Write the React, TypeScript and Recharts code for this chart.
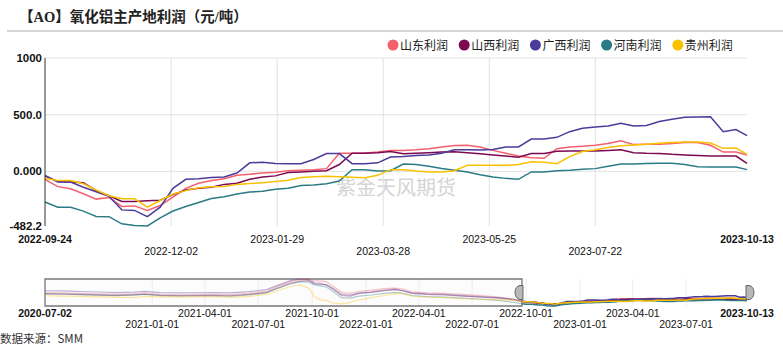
import React from 'react';
import { LineChart, Line, XAxis, YAxis, CartesianGrid, ReferenceArea, ReferenceDot } from 'recharts';

// ---------- data ----------
const seriesNames = ['山东利润', '山西利润', '广西利润', '河南利润', '贵州利润'];
const seriesKeys = ['sd', 'sx', 'gx', 'hn', 'gz'];
const seriesColors = ['#f4606c', '#7c0a52', '#4b3b9b', '#2a7b85', '#f9c100'];

const mainDates = [
  '2022-09-24', '2022-10-01', '2022-10-08', '2022-10-15', '2022-10-22', '2022-10-29',
  '2022-11-05', '2022-11-12', '2022-11-19', '2022-11-26', '2022-12-03', '2022-12-10',
  '2022-12-17', '2022-12-24', '2022-12-31', '2023-01-07', '2023-01-14', '2023-01-21',
  '2023-01-28', '2023-02-04', '2023-02-11', '2023-02-18', '2023-02-25', '2023-03-04',
  '2023-03-11', '2023-03-18', '2023-03-25', '2023-04-01', '2023-04-08', '2023-04-15',
  '2023-04-22', '2023-04-29', '2023-05-06', '2023-05-13', '2023-05-20', '2023-05-27',
  '2023-06-03', '2023-06-10', '2023-06-17', '2023-06-24', '2023-07-01', '2023-07-08',
  '2023-07-15', '2023-07-22', '2023-07-29', '2023-08-05', '2023-08-12', '2023-08-19',
  '2023-08-26', '2023-09-02', '2023-09-09', '2023-09-16', '2023-09-23', '2023-09-30',
  '2023-10-07', '2023-10-13',
];
const shandong = [
  -70, -135, -153, -198, -245, -230, -310, -305, -345, -301, -227, -150, -105, -80, -65, -35,
  -25, -15, -8, 5, 10, 15, 24, 160, 160, 162, 170, 185, 185, 190, 200, 215, 228, 230, 215, 185,
  160, 135, 120, 115, 200, 215, 222, 230, 245, 270, 236, 238, 240, 245, 255, 255, 230, 170, 170, 145,
];
const shanxi = [
  -40, -90, -95, -100, -170, -215, -265, -265, -260, -255, -205, -165, -150, -140, -115, -105,
  -70, -50, -40, -10, -5, 0, 5, 60, 160, 160, 165, 175, 155, 160, 165, 170, 172, 165, 155, 145,
  135, 125, 157, 157, 177, 180, 180, 180, 185, 190, 165, 160, 158, 150, 145, 140, 135, 135, 135, 70,
];
const guangxi = [
  -35, -95, -95, -140, -180, -220, -340, -345, -400, -316, -150, -70, -65, -55, -50, -15,
  75, 80, 70, 68, 68, 105, 157, 157, 68, 68, 75, 127, 130, 140, 145, 160, 190, 190, 188, 192,
  215, 215, 285, 285, 300, 350, 380, 392, 400, 425, 400, 405, 440, 460, 478, 480, 482, 350, 368, 315,
];
const henan = [
  -270, -316, -316, -351, -398, -400, -463, -478, -482.2, -410, -350, -310, -275, -240, -225, -200,
  -183, -175, -159, -150, -124, -120, -110, -86, 15, 15, 3, 5, 65, 60, 45, 25, 9, -5, -30, -50,
  -62, -70, -5, -5, 5, 10, 18, 24, 45, 65, 65, 70, 72, 72, 60, 40, 38, 38, 38, 15,
];
const guizhou = [
  -60, -80, -80, -110, -165, -215, -242, -242, -316, -257, -200, -170, -145, -137, -133, -115,
  -108, -100, -90, -78, -55, -48, -44, -48, -52, -56, -35, 15, 15, 3, -5, -6, 5, 53, 53, 53,
  53, 60, 85, 80, 68, 130, 175, 190, 210, 225, 232, 240, 248, 255, 258, 258, 250, 203, 206, 150,
];

const histDates = [
  '2020-07-02', '2020-08-01', '2020-09-01', '2020-10-01', '2020-11-01', '2020-12-01', '2020-12-20',
  '2021-01-15', '2021-02-15', '2021-03-15', '2021-04-15', '2021-05-15', '2021-06-15', '2021-07-15',
  '2021-08-05', '2021-08-25', '2021-09-10', '2021-09-25', '2021-10-05', '2021-10-15', '2021-10-25',
  '2021-11-05', '2021-11-20', '2021-12-05', '2021-12-20', '2022-01-10', '2022-02-01', '2022-02-20',
  '2022-03-05', '2022-03-20', '2022-04-15', '2022-05-15', '2022-06-15', '2022-07-15', '2022-08-15',
  '2022-09-10',
];
const histShandong = [760, 740, 700, 650, 600, 650, 720, 600, 560, 600, 620, 580, 700, 900, 1400, 1800, 2000, 2050, 1900, 1850, 1800, 1400, 800, 700, 900, 1000, 1150, 1200, 1100, 850, 750, 700, 600, 500, 350, 150];
const histShanxi = [650, 620, 580, 540, 500, 560, 620, 520, 480, 500, 520, 480, 600, 800, 1250, 1650, 1850, 1900, 1600, 1550, 1500, 1100, 500, 450, 700, 800, 950, 1050, 950, 700, 600, 550, 450, 350, 250, 100];
const histGuangxi = [950, 930, 880, 830, 780, 820, 880, 780, 740, 760, 780, 740, 860, 1050, 1500, 1900, 2050, 2000, 1700, 1650, 1500, 1200, 600, 550, 750, 850, 1000, 1100, 950, 750, 650, 600, 500, 400, 300, 150];
const histHenan = [680, 650, 600, 560, 520, 560, 600, 500, 460, 480, 480, 450, 560, 750, 1200, 1600, 1800, 1750, 1500, 1400, 1300, 900, 300, 250, 450, 550, 700, 800, 700, 500, 400, 350, 250, 150, 50, -150];
const histGuizhou = [480, 450, 420, 380, 330, 300, 420, 380, 350, 380, 360, 330, 420, 600, 1000, 1350, 1500, 1200, 400, 100, 50, -200, -290, -150, 100, 300, 500, 700, 650, 450, 350, 300, 200, 150, 100, 50];

const mainTicks = ['2022-09-24', '2022-12-02', '2023-01-29', '2023-03-28', '2023-05-25', '2023-07-22', '2023-10-13'];
const navTicks = [
  '2020-07-02', '2021-01-01', '2021-04-01', '2021-07-01', '2021-10-01', '2022-01-01', '2022-04-01',
  '2022-07-01', '2022-10-01', '2023-01-01', '2023-04-01', '2023-07-01', '2023-10-13',
];
const yTicks = [-482.2, 0, 500, 1000];
const yTickLabels = ['-482.2', '0.000', '500.0', '1000'];

// ---------- helpers ----------
const toT = (s: string) => {
  const [y, m, d] = s.split('-').map(Number);
  return Date.UTC(y, m - 1, d);
};
const fmtT = (t: number) => new Date(t).toISOString().slice(0, 10);

const mainSeries = [shandong, shanxi, guangxi, henan, guizhou];
const histSeries = [histShandong, histShanxi, histGuangxi, histHenan, histGuizhou];

const mainData = mainDates.map((d, i) => {
  const row: any = { t: toT(d) };
  seriesKeys.forEach((k, j) => (row[k] = mainSeries[j][i]));
  return row;
});

const navData: any[] = [];
histDates.forEach((d, i) => {
  const row: any = { t: toT(d) };
  seriesKeys.forEach((k, j) => (row['h_' + k] = histSeries[j][i]));
  navData.push(row);
});
mainDates.forEach((d, i) => {
  const row: any = { t: toT(d) };
  seriesKeys.forEach((k, j) => {
    row[k] = mainSeries[j][i];
    if (i === 0) row['h_' + k] = mainSeries[j][i];
  });
  navData.push(row);
});

const allVals = [...mainSeries.flat(), ...histSeries.flat()];
const navMin = Math.min(...allVals);
const navMax = Math.max(...allVals);
const navMid = (navMin + navMax) / 2;

const mainStart = toT(mainDates[0]);
const mainEnd = toT(mainDates[mainDates.length - 1]);
const navStart = toT(histDates[0]);

const FONT = '"Liberation Sans", Arial, sans-serif';
const CJK = '"Noto Sans CJK SC", "Noto Sans", sans-serif';

const MainTick = (props: any) => {
  const { x, y, payload, index } = props;
  const bold = index === 0 || index === mainTicks.length - 1;
  const row = index % 2;
  return (
    <text x={x} y={y + (row ? 25 : 13)} textAnchor="middle" dominantBaseline="central" fontSize={10.5}
      fontWeight={bold ? 700 : 400} fill="#111" fontFamily={FONT}>
      {fmtT(payload.value)}
    </text>
  );
};

const NavTick = (props: any) => {
  const { x, y, payload, index } = props;
  const bold = index === 0 || index === navTicks.length - 1;
  const row = index % 2;
  return (
    <text x={x} y={y + (row ? 18 : 7)} textAnchor="middle" dominantBaseline="central" fontSize={10.5}
      fontWeight={bold ? 700 : 400} fill="#111" fontFamily={FONT}>
      {fmtT(payload.value)}
    </text>
  );
};

const LeftHandle = (p: any) => {
  const { cx, cy } = p;
  return (
    <path d={`M ${cx + 1} ${cy - 7} L ${cx - 2} ${cy - 7} A 5 7 0 0 0 ${cx - 2} ${cy + 7} L ${cx + 1} ${cy + 7} Z`}
      fill="#b8b8b8" stroke="#666" strokeWidth={1} />
  );
};
const RightHandle = (p: any) => {
  const { cx, cy } = p;
  return (
    <path d={`M ${cx - 1} ${cy - 7} L ${cx + 2} ${cy - 7} A 5 7 0 0 1 ${cx + 2} ${cy + 7} L ${cx - 1} ${cy + 7} Z`}
      fill="#b8b8b8" stroke="#666" strokeWidth={1} />
  );
};

export default function App() {
  return (
    <div style={{ position: 'absolute', left: 0, top: 0, width: 783, height: 345, background: '#fff', overflow: 'hidden', fontFamily: FONT }}>
      <div style={{ position: 'absolute', left: 19, top: 5, fontSize: 14.5, fontWeight: 700, color: '#222', fontFamily: '"Liberation Serif", "Noto Sans CJK SC", serif', whiteSpace: 'nowrap' }}>
        【AO】氧化铝主产地利润（元/吨）
      </div>
      <div style={{ position: 'absolute', left: 7, top: 30, width: 776, height: 2, background: '#d6d6d6' }} />

      <svg style={{ position: 'absolute', left: 0, top: 0 }} width={783} height={60}>
        {seriesNames.map((n, i) => (
          <g key={n}>
            <circle cx={393 + 71.2 * i} cy={45} r={5.5} fill={seriesColors[i]} />
            <text x={400 + 71.2 * i} y={49.5} fontSize={12} fill="#222" fontFamily={CJK}>{n}</text>
          </g>
        ))}
      </svg>

      <div style={{ position: 'absolute', left: 336, top: 172, fontSize: 20, color: '#d4d4d4', fontFamily: CJK, whiteSpace: 'nowrap' }}>
        紫金天风期货
      </div>

      <div style={{ position: 'absolute', left: 0, top: 0 }}>
        <LineChart width={783} height={262} data={mainData} margin={{ top: 58, right: 36, bottom: 0, left: 0 }}>
          <CartesianGrid stroke="#e2e2e2" horizontalValues={[0, 500, 1000]} verticalValues={mainTicks.slice(1, -1).map(toT)} />
          <XAxis dataKey="t" type="number" domain={[mainStart, mainEnd]} ticks={mainTicks.map(toT)} interval={0}
            axisLine={false} tickLine={false} tickSize={0} tickMargin={0} height={36} tick={(p: any) => <MainTick {...p} />} />
          <YAxis type="number" domain={[-482.2, 1000]} ticks={yTicks} interval={0} width={45}
            axisLine={{ stroke: '#333', strokeWidth: 1 }} tickLine={false} tickSize={0} tickMargin={3}
            tick={{ fontSize: 11.5, fontWeight: 700, fill: '#111', fontFamily: FONT }}
            tickFormatter={(v: number) => yTickLabels[yTicks.indexOf(v)] ?? String(v)} />
          {seriesKeys.map((k, i) => (
            <Line key={k} dataKey={k} type="linear" stroke={seriesColors[i]} strokeWidth={1.5} dot={false} isAnimationActive={false} />
          ))}
        </LineChart>
      </div>

      <div style={{ position: 'absolute', left: 0, top: 270 }}>
        <LineChart width={783} height={62} data={navData} margin={{ top: 9, right: 36, bottom: 0, left: 45 }}>
          <CartesianGrid stroke="#ececec" horizontal={false} verticalValues={navTicks.slice(1, -1).map(toT)} />
          <XAxis dataKey="t" type="number" domain={[navStart, mainEnd]} ticks={navTicks.map(toT)} interval={0}
            axisLine={false} tickLine={false} tickSize={0} tickMargin={0} height={26} tick={(p: any) => <NavTick {...p} />} />
          <YAxis hide type="number" domain={[navMin, navMax]} />
          {seriesKeys.map((k, i) => (
            <Line key={'h_' + k} dataKey={'h_' + k} type="linear" stroke={seriesColors[i]} strokeOpacity={0.38} strokeWidth={1.2} dot={false} isAnimationActive={false} />
          ))}
          {seriesKeys.map((k, i) => (
            <Line key={'n_' + k} dataKey={k} type="linear" stroke={seriesColors[i]} strokeWidth={1.5} dot={false} isAnimationActive={false} />
          ))}
          <ReferenceArea x1={navStart} x2={mainStart} y1={navMin} y2={navMax} fill="#f2f2f2" fillOpacity={0.25} stroke="#777" strokeWidth={1.3} />
          <ReferenceDot x={mainStart} y={navMid} shape={(p: any) => <LeftHandle {...p} />} />
          <ReferenceDot x={mainEnd} y={navMid} shape={(p: any) => <RightHandle {...p} />} />
        </LineChart>
      </div>

      <div style={{ position: 'absolute', left: 0, top: 332, fontSize: 11.5, lineHeight: '13px', color: '#333', fontFamily: CJK, whiteSpace: 'nowrap' }}>
        数据来源：SMM
      </div>
    </div>
  );
}
